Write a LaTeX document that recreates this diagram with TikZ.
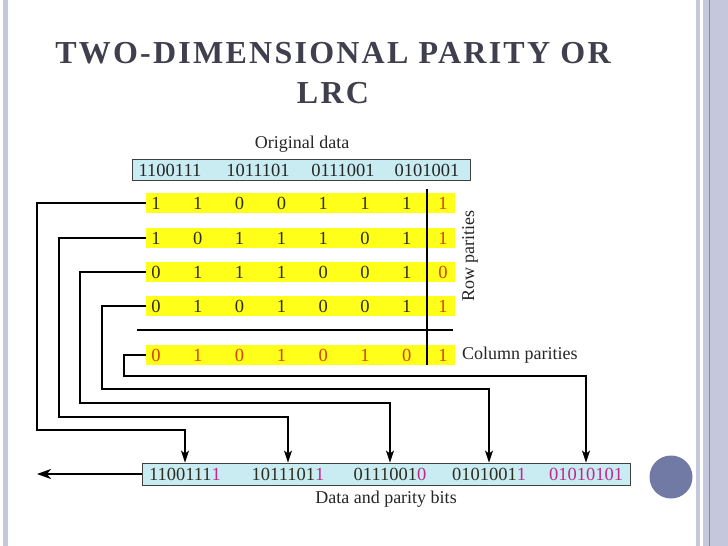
\documentclass[tikz,border=0pt]{standalone}
\usepackage{fontspec}
\setmainfont{Liberation Serif}
\usetikzlibrary{arrows.meta,positioning}

\definecolor{slidebar}{HTML}{C5C8DC}
\definecolor{slideline}{HTML}{8189AC}
\definecolor{dotblue}{HTML}{717AA5}
\definecolor{titlegrey}{HTML}{3F3F4E}
\definecolor{rowyellow}{HTML}{FFFF1A}
\definecolor{boxblue}{HTML}{C9EBF2}
\definecolor{bitdark}{HTML}{2E2E1E}
\definecolor{parred}{HTML}{D6420E}
\definecolor{parmag}{HTML}{C2288C}

\tikzset{
  titolo/.style={font=\bfseries\fontsize{32}{40}\selectfont\addfontfeature{LetterSpace=7}, text=titlegrey, inner sep=0pt},
  lab/.style={font=\fontsize{18}{18}\selectfont, text=black!85, inner sep=0pt},
  bit/.style={font=\fontsize{18.5}{18.5}\selectfont, text=bitdark, inner sep=0pt},
  parbit/.style={bit, text=parred},
  riga/.style={fill=rowyellow, minimum width=309pt, minimum height=20pt, inner sep=0pt},
  box/.style={draw=black!75, fill=boxblue, line width=0.9pt, inner sep=0pt},
  sep/.style={line width=2.4pt},
  conn/.style={line width=1.4pt, -{Stealth[length=12pt,width=8pt,inset=3pt]}},
  outarr/.style={line width=2pt, -{Stealth[length=14pt,width=10pt,inset=4pt]}},
}

\begin{document}
\begin{tikzpicture}[x=1pt,y=-1pt]
  % Sfondo e cornice
  \useasboundingbox[fill=white] (0,0) rectangle (728,546);
  \fill[slidebar] (3,0) rectangle (8,546);
  \fill[slidebar] (696,0) rectangle (700,546);
  \fill[slidebar] (703,0) rectangle (728,546);
  \draw[slideline, line width=1pt] (709,0) -- (709,546);
  \fill[dotblue] (671,477) circle (21.5);

  % Titolo
  \node[titolo, anchor=base] (tit1) at (333,63) {TWO-DIMENSIONAL PARITY OR};
  \node[titolo, anchor=base] (tit2) at (333,103) {LRC};

  % Dati originali
  \node[lab, anchor=base] (orig) at (302,148) {Original data};
  \node[box, minimum width=338pt, minimum height=21pt] (dati) at (301,170) {};
  \node[bit, text=black!85] (d1) at (170,170) {1100111};
  \node[bit, text=black!85] (d2) at (258,170) {1011101};
  \node[bit, text=black!85] (d3) at (343,170) {0111001};
  \node[bit, text=black!85] (d4) at (427,170) {0101001};

  % Righe
  \node[riga] (r1) at (300.5,203) {};
  \node[riga] (r2) at (300.5,238) {};
  \node[riga] (r3) at (300.5,272) {};
  \node[riga] (r4) at (300.5,306) {};
  \node[riga] (r5) at (300.5,355) {};
  \foreach \b [count=\k from 0] in {1,1,0,0,1,1,1}
    \node[bit] (a\k) at ({156+41.8*\k},203) {\b};
  \foreach \b [count=\k from 0] in {1,0,1,1,1,0,1}
    \node[bit] (b\k) at ({156+41.8*\k},238) {\b};
  \foreach \b [count=\k from 0] in {0,1,1,1,0,0,1}
    \node[bit] (c\k) at ({156+41.8*\k},272) {\b};
  \foreach \b [count=\k from 0] in {0,1,0,1,0,0,1}
    \node[bit] (e\k) at ({156+41.8*\k},306) {\b};
  \foreach \b [count=\k from 0] in {0,1,0,1,0,1,0}
    \node[parbit] (f\k) at ({156+41.8*\k},355) {\b};
  \foreach \b [count=\k from 1] in {1,1,0,1}
    \node[parbit] (p\k) at (443,{\k==1 ? 203 : (\k==2 ? 238 : (\k==3 ? 272 : 306))}) {\b};
  \node[parbit] (p5) at (443,355) {1};

  % Linee di separazione
  \coordinate (vtop) at (427,189);
  \coordinate (vbot) at (427,365);
  \coordinate (hsx) at (137,330);
  \coordinate (hdx) at (453,330);
  \draw[sep] (vtop) -- (vbot);
  \draw[sep] (hsx) -- (hdx);

  % Etichette
  \node[lab, rotate=90] (rowpar) at (470,256) {Row parities};
  \node[lab, anchor=west] (colpar) at (462,355) {Column parities};

  % Dati e parita
  \node[box, minimum width=488pt, minimum height=22pt] (out) at (386,474) {};
  \node[bit] (g1) at (185,474) {1100111\textcolor{parmag}{1}};
  \node[bit] (g2) at (288,474) {1011101\textcolor{parmag}{1}};
  \node[bit] (g3) at (390,474) {0111001\textcolor{parmag}{0}};
  \node[bit] (g4) at (489,474) {0101001\textcolor{parmag}{1}};
  \node[bit, text=parmag] (g5) at (586,474) {01010101};
  \node[lab, anchor=base] (dpb) at (386,503) {Data and parity bits};

  % Frecce
  \draw[conn] (r1.west) -- (37,203) -- (37,430) -| (g1 |- out.north);
  \draw[conn] (r2.west) -- (59,238) -- (59,417) -| (g2 |- out.north);
  \draw[conn] (r3.west) -- (80,272) -- (80,403) -| (g3 |- out.north);
  \draw[conn] (r4.west) -- (102,306) -- (102,389) -| (g4 |- out.north);
  \draw[conn] (r5.west) -- (124,355) -- (124,376) -| (g5 |- out.north);
  \draw[outarr] (out.west) -- (37,474);
\end{tikzpicture}
\end{document}
